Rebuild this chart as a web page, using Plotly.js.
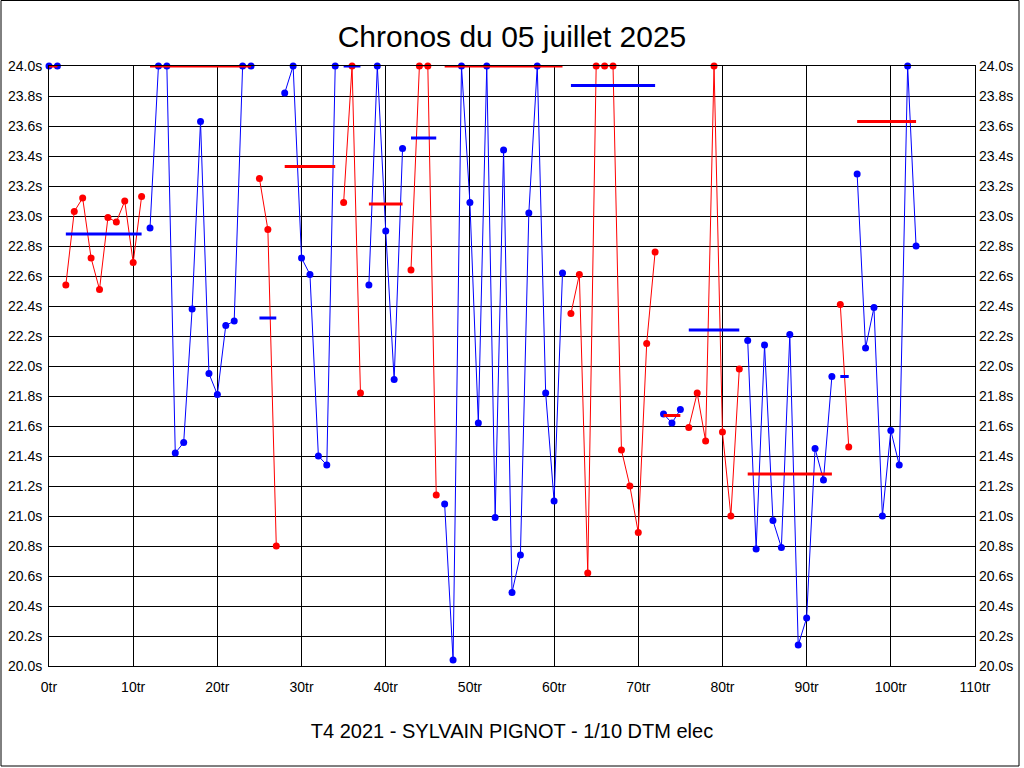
<!DOCTYPE html>
<html>
<head>
<meta charset="utf-8">
<script src="https://cdn.plot.ly/plotly-3.0.1.min.js"></script>
<style>
  html, body { margin: 0; padding: 0; background: #fff; }
  #chart { width: 1024px; height: 768px; }
</style>
</head>
<body>
<div id="chart"></div>
<script>
// Lap times (s), one value per lap starting at lap 0 (values above 24.0 s are shown capped at 24.0)
const lapTimes = [
  24.00, 24.00, 22.54, 23.03, 23.12, 22.72, 22.51, 22.99, 22.96, 23.10,
  22.69, 23.13, 22.92, 24.00, 24.00, 21.42, 21.49, 22.38, 23.63, 21.95,
  21.81, 22.27, 22.30, 24.00, 24.00, 23.25, 22.91, 20.80, 23.82, 24.00,
  22.72, 22.61, 21.40, 21.34, 24.00, 23.09, 24.00, 21.82, 22.54, 24.00,
  22.90, 21.91, 23.45, 22.64, 24.00, 24.00, 21.14, 21.08, 20.04, 24.00,
  23.09, 21.62, 24.00, 20.99, 23.44, 20.49, 20.74, 23.02, 24.00, 21.82,
  21.10, 22.62, 22.35, 22.61, 20.62, 24.00, 24.00, 24.00, 21.44, 21.20,
  20.89, 22.15, 22.76, 21.68, 21.62, 21.71, 21.59, 21.82, 21.50, 24.00,
  21.56, 21.00, 21.98, 22.17, 20.78, 22.14, 20.97, 20.79, 22.21, 20.14,
  20.32, 21.45, 21.24, 21.93, 22.41, 21.46, 23.28, 22.12, 22.39, 21.00,
  21.57, 21.34, 24.00, 22.80
];

// Stints (first and last lap of each run)
const stintStart = [0, 2, 12, 25, 28, 35, 38, 43, 47, 62, 73, 76, 83, 94, 96];
const stintEnd   = [1, 11, 24, 27, 34, 37, 42, 46, 61, 72, 75, 82, 93, 95, 103];
// Average line drawn for each stint (s, capped at 24.0)
const stintAvg   = [24.00, 22.88, 24.00, 22.32, 23.33, 24.00, 23.08, 23.52, 24.00, 23.87, 21.67, 22.24, 21.28, 21.93, 23.63];

// Colours alternate per stint
const stintColors = ['#0000FF', '#FF0000'];

// Axis ticks
const yTicks = [20.0, 20.2, 20.4, 20.6, 20.8, 21.0, 21.2, 21.4, 21.6, 21.8, 22.0,
                22.2, 22.4, 22.6, 22.8, 23.0, 23.2, 23.4, 23.6, 23.8, 24.0];
const xTicks = [0, 10, 20, 30, 40, 50, 60, 70, 80, 90, 100, 110];

const chartTitle = 'Chronos du 05 juillet 2025';
const xTitle = 'T4 2021 - SYLVAIN PIGNOT - 1/10 DTM elec';

const FONT = 'Liberation Sans, Arial, sans-serif';

const traces = [];
const avgTraces = [];
stintStart.forEach((s, i) => {
  const e = stintEnd[i];
  const xs = [], ys = [];
  for (let lap = s; lap <= e; lap++) { xs.push(lap); ys.push(lapTimes[lap]); }
  const col = stintColors[i % 2];
  const avgCol = stintColors[(i + 1) % 2];
  traces.push({
    type: 'scatter', mode: 'lines+markers', x: xs, y: ys,
    line: { color: col, width: 1 },
    marker: { color: col, size: 7 },
    cliponaxis: false, hoverinfo: 'skip', showlegend: false
  });
  avgTraces.push({
    type: 'scatter', mode: 'lines', x: [s, e], y: [stintAvg[i], stintAvg[i]],
    yaxis: 'y2',
    line: { color: avgCol, width: 3 },
    cliponaxis: false, hoverinfo: 'skip', showlegend: false
  });
});

const yTickText = yTicks.map(v => v.toFixed(1) + 's');
const xTickText = xTicks.map(v => v + 'tr');

const layout = {
  width: 1024, height: 768,
  paper_bgcolor: '#ffffff', plot_bgcolor: '#ffffff',
  margin: { l: 49, r: 49, t: 66, b: 102 },
  font: { family: FONT, color: '#000000', size: 14 },
  title: {
    text: chartTitle,
    font: { family: FONT, size: 30, color: '#000000' },
    x: 0.5, xanchor: 'center', xref: 'paper',
    y: 1 - 36 / 768, yanchor: 'middle', yref: 'container'
  },
  xaxis: {
    range: [0, 110], tickvals: xTicks, ticktext: xTickText,
    showgrid: true, gridcolor: '#000000', gridwidth: 1,
    showline: true, linecolor: '#000000', linewidth: 1, mirror: true,
    zeroline: false, ticks: '', ticklen: 0, ticklabelstandoff: 8,
    tickfont: { family: FONT, size: 14, color: '#000000' },
    title: { text: xTitle, font: { family: FONT, size: 20, color: '#000000' }, standoff: 30 },
    fixedrange: true
  },
  yaxis: {
    range: [20, 24], tickvals: yTicks, ticktext: yTickText,
    showgrid: true, gridcolor: '#000000', gridwidth: 1,
    showline: true, linecolor: '#000000', linewidth: 1, mirror: true,
    zeroline: false, ticks: '', ticklen: 0, ticklabelstandoff: 3,
    tickfont: { family: FONT, size: 14, color: '#000000' },
    fixedrange: true
  },
  yaxis2: {
    range: [20, 24], tickvals: yTicks, ticktext: yTickText,
    overlaying: 'y', side: 'right', showgrid: false, zeroline: false,
    showline: false, ticks: '', ticklen: 0, ticklabelstandoff: 3,
    tickfont: { family: FONT, size: 14, color: '#000000' },
    fixedrange: true
  },
  shapes: [{
    type: 'rect', xref: 'paper', yref: 'paper',
    x0: (1 - 49) / 926, x1: (1019 - 49) / 926,
    y0: (666 - 766) / 600, y1: (666 - 0.5) / 600,
    line: { color: '#000000', width: 1 }, fillcolor: 'rgba(0,0,0,0)', layer: 'above'
  }],
  showlegend: false
};

Plotly.newPlot('chart', traces.concat(avgTraces), layout, { displayModeBar: false, staticPlot: true });
</script>
</body>
</html>
